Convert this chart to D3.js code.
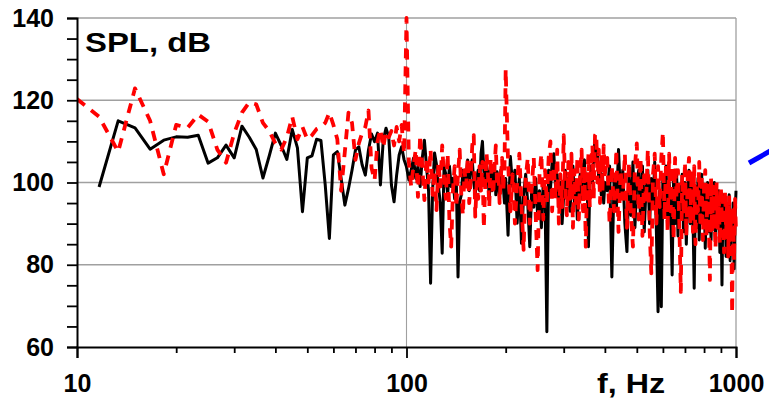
<!DOCTYPE html>
<html><head><meta charset="utf-8">
<script src="https://cdn.jsdelivr.net/npm/d3@7"></script>
<style>body{margin:0;background:#fff} svg{display:block}</style>
</head><body><svg id="c" width="769" height="402"></svg>
<script>
// FFT bin width (Hz) and bin indices sampled
const binWidthHz = 5 / 3;
const binIndex = [...d3.range(6, 121), ...d3.range(122, 241, 2), ...d3.range(244, 601, 4)];

// red dashed spectrum (dB)
const redSPL = [
  120.3, 116, 107.5, 122.9, 115, 102, 114, 113.3, 116.5, 114.8,
  108, 104.8, 112, 117, 119.5, 119, 114.5, 112.5, 109.5, 108,
  111, 116, 110.5, 113.5, 110.5, 111.5, 113, 113.5, 114.5, 117,
  114, 110.5, 98, 107.5, 117, 114.5, 105.5, 109.5, 112, 113.5,
  117.5, 103.5, 100.5, 110, 113, 108.5, 112.5, 111, 112.5, 109,
  113.5, 110, 114, 107, 140, 105, 99, 104, 108, 96.5,
  111.5, 104, 95.7, 106, 100, 108, 97, 103, 93.3, 105,
  99, 109, 101, 96, 107, 90.5, 84.4, 98, 104, 94,
  102, 108, 97, 92, 103, 99, 106, 95, 101, 109,
  111.5, 91.7, 100, 96, 104, 98, 105, 88.9, 99, 107,
  102, 94, 106, 100, 97, 104, 109, 99, 103, 95,
  101, 106, 98, 104, 127.5,
  105, 93, 102, 90, 100, 107, 95, 83.6, 101, 106,
  90, 99, 106, 92, 78.7, 102, 107, 91, 103, 95,
  106, 110, 93, 104, 96, 108, 90, 102, 94, 111.5,
  99, 92, 105, 96, 107, 89, 103, 95, 106, 91,
  102, 108, 93, 104, 84.4, 101, 107, 94, 105, 109,
  96, 111.5, 112, 100, 108, 95, 107, 98, 109, 102,
  106, 90, 104, 93, 108, 88, 103, 96, 107, 89,
  105, 92, 84.4, 104, 109.5, 91, 106, 87, 103, 95,
  108, 89, 77.9, 102, 107, 90, 104, 94, 106, 112.3,
  91, 105, 88, 107, 93, 104, 86, 106, 96, 103,
  89, 73.4, 102, 92, 105, 87, 101, 106, 90, 103,
  88, 104, 85, 100, 93, 105, 89, 102, 86, 99,
  103, 87, 100, 91, 76.3, 101, 88, 99, 92, 84,
  100, 89, 97, 85, 99, 90, 96, 83, 98, 88,
  95, 82, 97, 86, 93, 68.2, 94, 81, 96, 88
];

// black solid spectrum (dB)
const blackSPL = [
  null,
  98.9, 115, 113.3, 108.1, 110.3, 111.1, 111, 111.5, 104.7, 106,
  109.1, 106, 113.7, 111, 108, 101.1, 106.5, 112, 109, 105.6,
  112.9, 108.4, 92.9, 106, 106.5, 110.5, 110.2, 99.4, 86.4, 106.7,
  107.5, 101, 94.5, 98.5, 103, 107.9, 108.7, 104.3, 101.8, 107.9,
  111.8, 109.9, 112, 99.4, 110.3, 113.2, 111.1, 99.4, 95.3, 101.8,
  106.7, 108.7, 105.5, 103.8,
  100.6, 103, 105.9, 101, 104, 99, 106, 110.3, 104, 98,
  75.5, 98, 107.2, 104.3, 99, 95, 82.8, 103.8, 102, 97,
  104, 99, 101, 96, 100, 77, 95.3, 97, 103, 99,
  101, 105.5, 98, 104, 105.5, 100, 97, 101, 103, 98,
  107, 110, 103, 99, 104, 102.2, 96, 103, 98, 100.6,
  104, 97, 102.6, 100, 96, 103, 99, 99, 95, 101,
  87.2, 106.3, 99, 103, 90.1, 101, 85.2, 97, 102, 95,
  84.4, 99, 94, 101, 92, 98, 89, 100, 96, 63.7,
  103, 98, 105, 107, 99, 102, 94, 100, 90, 97,
  103, 96, 101, 93, 99, 104, 95, 100, 91, 98,
  102, 96, 104, 105.5, 97, 101, 84.4, 99, 104, 100,
  107, 110.3, 105, 108, 100, 104, 97, 102, 95, 100,
  98, 104, 77, 101, 93, 108, 96, 103, 90, 83.2,
  102, 92, 105, 89, 100, 103, 91, 104, 88, 99,
  103, 90, 101, 94, 105, 88, 68.6, 98, 69.8, 102,
  92, 104, 89, 100, 94, 77.5, 101, 90, 103, 87,
  99, 92, 102, 88, 100, 85, 98, 103, 90, 100,
  93, 74.3, 99, 89, 101, 86, 97, 102, 90, 98,
  84, 96, 100, 88, 97, 86, 98, 91, 100, 85,
  96, 89, 98, 83, 95, 75.1, 97, 88, 96, 82,
  94, 87, 97, 81, 93, 86, 95, 79, 91, 98
];

const yTicks = d3.range(60, 141, 5);
const yLabels = [60, 80, 100, 120, 140];
const yGrid = [80, 100, 120, 140];
const xMajor = [10, 100, 1000];
const xMinor = [20, 30, 40, 50, 60, 70, 80, 90, 200, 300, 400, 500, 600, 700, 800, 900];
const xGrid = [100];

const pLeft = 77, pRight = 736, pTop = 18, pBottom = 347;
const font = "'Liberation Sans', Arial, Helvetica, sans-serif";

const svg = d3.select("#c");
const x = d3.scaleLog().domain([10, 1000]).range([pLeft, pRight]);
const y = d3.scaleLinear().domain([60, 140]).range([pBottom, pTop]);

// grid
svg.append("g").selectAll("line").data(yGrid).join("line")
  .attr("x1", pLeft).attr("x2", pRight)
  .attr("y1", d => y(d)).attr("y2", d => y(d))
  .attr("stroke", "#a0a0a0").attr("stroke-width", 1.3);
svg.append("g").selectAll("line").data(xGrid).join("line")
  .attr("x1", d => x(d)).attr("x2", d => x(d))
  .attr("y1", pTop).attr("y2", pBottom)
  .attr("stroke", "#a0a0a0").attr("stroke-width", 1.1);
svg.append("line").attr("x1", pRight).attr("x2", pRight).attr("y1", pTop).attr("y2", pBottom)
  .attr("stroke", "#a0a0a0").attr("stroke-width", 1.3);

svg.append("clipPath").attr("id", "pc").append("rect")
  .attr("x", pLeft).attr("y", pTop - 3).attr("width", pRight - pLeft + 2).attr("height", pBottom - pTop + 3);

function series(vals) {
  const n = Math.min(vals.length, binIndex.length);
  const out = [];
  for (let i = 0; i < n; i++) out.push({ f: binIndex[i] * binWidthHz, v: vals[i] });
  return out;
}
const line = d3.line().defined(d => d.v != null).x(d => x(d.f)).y(d => y(d.v));

const plot = svg.append("g").attr("clip-path", "url(#pc)");
plot.append("path").datum(series(blackSPL)).attr("d", line)
  .attr("fill", "none").attr("stroke", "#000").attr("stroke-width", 3)
  .attr("stroke-linejoin", "round");
plot.append("path").datum(series(redSPL)).attr("d", line)
  .attr("fill", "none").attr("stroke", "#ff0000").attr("stroke-width", 3.8)
  .attr("stroke-dasharray", "10,8").attr("stroke-linejoin", "round");

// axes
const ya = svg.append("g").attr("transform", `translate(${pLeft},0)`)
  .call(d3.axisLeft(y).tickValues(yTicks).tickSize(10).tickPadding(13)
    .tickFormat(d => yLabels.includes(d) ? d : ""));
ya.select(".domain").attr("stroke", "#000").attr("stroke-width", 2);
ya.selectAll(".tick line").attr("stroke", "#000").attr("stroke-width", 1.8);
ya.selectAll("text").attr("font-family", font).attr("font-weight", "bold")
  .attr("font-size", 25).attr("fill", "#000");

const xaMinor = svg.append("g").attr("transform", `translate(0,${pBottom})`)
  .call(d3.axisBottom(x).tickValues(xMinor).tickSize(6).tickFormat(""));
xaMinor.select(".domain").remove();
xaMinor.selectAll(".tick line").attr("stroke", "#000").attr("stroke-width", 1.8);

const xa = svg.append("g").attr("transform", `translate(0,${pBottom})`)
  .call(d3.axisBottom(x).tickValues(xMajor).tickSize(11).tickPadding(16).tickFormat(d3.format("d")));
xa.select(".domain").attr("stroke", "#000").attr("stroke-width", 2);
xa.selectAll(".tick line").attr("stroke", "#000").attr("stroke-width", 1.8);
xa.selectAll("text").attr("font-family", font).attr("font-weight", "bold")
  .attr("font-size", 25).attr("fill", "#000");

// titles
svg.append("text").attr("x", 85).attr("y", 52).text("SPL, dB")
  .attr("font-family", font).attr("font-weight", "bold").attr("font-size", 28)
  .attr("textLength", 126).attr("lengthAdjust", "spacingAndGlyphs");
svg.append("text").attr("x", 597).attr("y", 393).text("f, Hz")
  .attr("font-family", font).attr("font-weight", "bold").attr("font-size", 28)
  .attr("textLength", 68).attr("lengthAdjust", "spacingAndGlyphs");

// blue arrow fragment at right edge
svg.append("line").attr("x1", 749).attr("y1", 163).attr("x2", 772).attr("y2", 150)
  .attr("stroke", "#0000ff").attr("stroke-width", 5);
</script></body></html>
